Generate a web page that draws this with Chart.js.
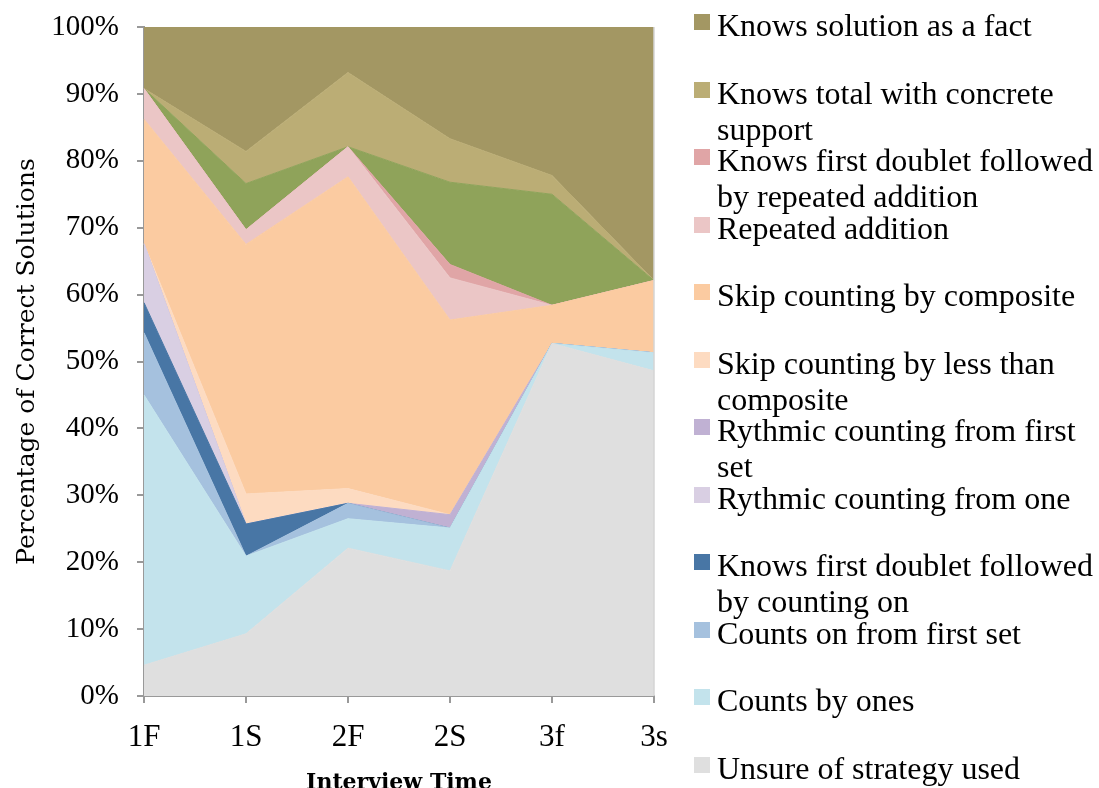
<!DOCTYPE html>
<html>
<head>
<meta charset="utf-8">
<script src="https://cdn.jsdelivr.net/npm/chart.js@4.4.1/dist/chart.umd.min.js"></script>
<style>
  body { margin: 0; background: #fff; }
  #wrap { position: relative; width: 1099px; height: 788px; overflow: hidden; }
  #legend { position: absolute; left: 0; top: 0; }
  .sw { position: absolute; left: 694px; width: 16px; height: 16px; }
  .lbl { position: absolute; left: 717px; font: 32px 'Liberation Serif', 'Times New Roman', serif;
         line-height: 36px; white-space: pre; color: #000; }
</style>
</head>
<body>
<div id="wrap">
  <canvas id="chart" width="1099" height="788"></canvas>
  <div id="legend"></div>
</div>
<script>
// interview times
var times = ['1F', '1S', '2F', '2S', '3f', '3s'];

// percentage of correct solutions per strategy (bottom of stack first)
var unsure = [4.6, 9.3, 22.1, 18.7, 52.7, 48.6];
var countsByOnes = [40.4, 11.6, 4.4, 6.4, 0, 2.7];
var countsOnFirstSet = [9.3, 0, 2.3, 0, 0, 0];
var doubletCountingOn = [4.5, 4.8, 0, 0, 0, 0];
var rythmicOne = [8.8, 0, 0, 0, 0, 0];
var rythmicFirstSet = [0, 0, 0, 2.0, 0, 0];
var skipLess = [0, 4.5, 2.2, 0, 0, 0];
var skipComposite = [18.6, 37.3, 46.6, 29.1, 5.7, 10.8];
var repeatedAddition = [4.6, 2.2, 4.5, 6.3, 0, 0];
var doubletRepeatedAddition = [0, 0, 0, 2.0, 0, 0];
var unlabelled = [0, 6.9, 0, 12.3, 16.6, 0]; // green band, no legend entry
var totalConcrete = [0, 4.8, 11.1, 6.5, 2.8, 0];
var knowsFact = [9.2, 18.6, 6.8, 16.7, 22.2, 37.9];

var yTicks = [0, 10, 20, 30, 40, 50, 60, 70, 80, 90, 100];

var series = [
    { label: 'Unsure of strategy used', data: unsure, color: '#dfdfdf' },
    { label: 'Counts by ones', data: countsByOnes, color: '#c3e3ec' },
    { label: 'Counts on from first set', data: countsOnFirstSet, color: '#a5c1de' },
    { label: 'Knows first doublet followed\nby counting on', data: doubletCountingOn, color: '#4876a5' },
    { label: 'Rythmic counting from one', data: rythmicOne, color: '#d9cfe3' },
    { label: 'Rythmic counting from first\nset', data: rythmicFirstSet, color: '#c0b1d3' },
    { label: 'Skip counting by less than\ncomposite', data: skipLess, color: '#fddbc1' },
    { label: 'Skip counting by composite', data: skipComposite, color: '#fbcba1' },
    { label: 'Repeated addition', data: repeatedAddition, color: '#ebc6c6' },
    { label: 'Knows first doublet followed\nby repeated addition', data: doubletRepeatedAddition, color: '#e0a5a6' },
    { label: '', data: unlabelled, color: '#8fa35a' },
    { label: 'Knows total with concrete\nsupport', data: totalConcrete, color: '#bbad75' },
    { label: 'Knows solution as a fact', data: knowsFact, color: '#a39763' }
];

var datasets = series.map(function (s, i) {
    return {
        label: s.label,
        data: s.data,
        backgroundColor: s.color,
        borderColor: s.color,
        borderWidth: 1,
        pointRadius: 0,
        tension: 0,
        fill: i === 0 ? 'origin' : '-1'
    };
});

// light border on the right of the plot area
var plotBorder = {
    id: 'plotBorder',
    afterDatasetsDraw: function (chart) {
        var a = chart.chartArea, ctx = chart.ctx;
        ctx.save();
        ctx.strokeStyle = '#d4d4d4';
        ctx.lineWidth = 1.5;
        ctx.beginPath();
        ctx.moveTo(a.right, a.top);
        ctx.lineTo(a.right, a.bottom);
        ctx.stroke();
        ctx.restore();
    }
};

var ctx = document.getElementById('chart').getContext('2d');
new Chart(ctx, {
    type: 'line',
    data: { labels: times, datasets: datasets },
    options: {
        responsive: false,
        animation: false,
        layout: { padding: { left: 0, top: 27, right: 445, bottom: 0 } },
        plugins: { legend: { display: false }, tooltip: { enabled: false } },
        scales: {
            x: {
                offset: false,
                grid: { drawOnChartArea: false, drawTicks: true, tickLength: 7, color: '#999', lineWidth: 2 },
                border: { display: true, color: '#999', width: 2 },
                ticks: { color: '#000', padding: 16, maxRotation: 0, autoSkip: false,
                         font: { family: "'Liberation Serif'", size: 31 } },
                title: { display: true, text: 'Interview Time', color: '#000', padding: 0,
                         font: { family: "'DejaVu Serif'", size: 22, weight: 'bold', lineHeight: 0.45 } },
                afterFit: function (s) { s.height = 92; }
            },
            y: {
                stacked: true,
                min: 0,
                max: 100,
                afterBuildTicks: function (s) { s.ticks = yTicks.map(function (v) { return { value: v }; }); },
                grid: { drawOnChartArea: false, drawTicks: true, tickLength: 7, color: '#999', lineWidth: 2 },
                border: { display: true, color: '#999', width: 2 },
                ticks: { color: '#000', padding: 18,
                         font: { family: "'Liberation Serif'", size: 29 },
                         callback: function (v) { return v + '%'; } },
                title: { display: true, text: 'Percentage of Correct Solutions', color: '#000',
                         padding: { top: 12 },
                         font: { family: "'DejaVu Serif'", size: 25 } },
                afterFit: function (s) {
                    s.width = 144;
                    s.paddingTop = 0;
                    s.paddingBottom = 0;
                }
            }
        }
    },
    plugins: [plotBorder]
});

// legend, top entry = top of the stack
var legend = document.getElementById('legend');
var row = 0;
series.slice().reverse().forEach(function (s) {
    if (!s.label) return;
    var top = 14 + 67.5 * row;
    var sw = document.createElement('div');
    sw.className = 'sw';
    sw.style.top = top + 'px';
    sw.style.background = s.color;
    legend.appendChild(sw);
    var t = document.createElement('div');
    t.className = 'lbl';
    t.style.top = (top - 7) + 'px';
    t.textContent = s.label;
    legend.appendChild(t);
    row++;
});
</script>
</body>
</html>
